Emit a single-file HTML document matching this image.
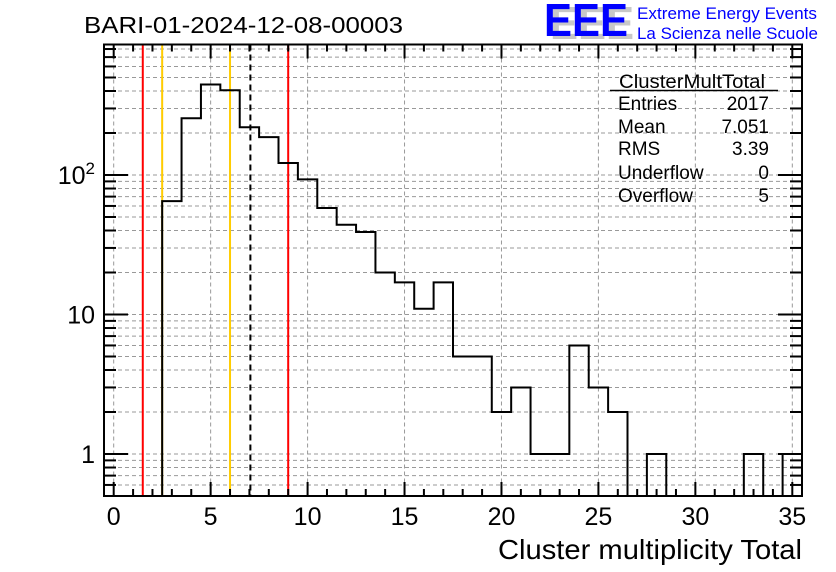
<!DOCTYPE html>
<html><head><meta charset="utf-8"><style>
html,body{margin:0;padding:0;background:#fff;}
svg{display:block;font-family:"Liberation Sans",sans-serif;}
</style></head><body>
<svg id="c" width="836" height="572" xmlns="http://www.w3.org/2000/svg">
<rect width="836" height="572" fill="#fff"/>
<g id="grid"></g>
<g id="vlines"></g>
<path id="hist" fill="none" stroke="#000" stroke-width="2"/>
<g id="axes"></g>
<text x="84" y="33" font-size="23" textLength="319" lengthAdjust="spacingAndGlyphs">BARI-01-2024-12-08-00003</text>
<g>
<text x="550" y="39" font-size="46" font-weight="bold" fill="#c8c8c8" textLength="84" lengthAdjust="spacingAndGlyphs">EEE</text>
<text x="544" y="36" font-size="46" font-weight="bold" fill="#0000ff" textLength="84" lengthAdjust="spacingAndGlyphs">EEE</text>
<text x="637" y="19" font-size="17" fill="#0000ff" textLength="180" lengthAdjust="spacingAndGlyphs">Extreme Energy Events</text>
<text x="637" y="39" font-size="17" fill="#0000ff" textLength="181" lengthAdjust="spacingAndGlyphs">La Scienza nelle Scuole</text>
</g>
<g font-size="19">
<text x="692" y="88" text-anchor="middle" textLength="146" lengthAdjust="spacingAndGlyphs">ClusterMultTotal</text>
<line x1="610" y1="90.5" x2="778" y2="90.5" stroke="#000" stroke-width="1.5"/>
<text x="618" y="110">Entries</text><text x="769" y="110" text-anchor="end">2017</text>
<text x="618" y="133">Mean</text><text x="769" y="133" text-anchor="end">7.051</text>
<text x="618" y="155">RMS</text><text x="769" y="155" text-anchor="end">3.39</text>
<text x="618" y="179">Underflow</text><text x="769" y="179" text-anchor="end">0</text>
<text x="618" y="202">Overflow</text><text x="769" y="202" text-anchor="end">5</text>
</g>
<text x="802" y="559" font-size="28" text-anchor="end" textLength="304" lengthAdjust="spacingAndGlyphs">Cluster multiplicity Total</text>
</svg>
<script>
const binLow = [2.5,3.5,4.5,5.5,6.5,7.5,8.5,9.5,10.5,11.5,12.5,13.5,14.5,15.5,16.5,17.5,18.5,19.5,20.5,21.5,22.5,23.5,24.5,25.5,26.5,27.5,28.5,29.5,30.5,31.5,32.5,33.5,34.5];
const counts = [65,255,445,405,220,187,122,93,58,44,39,20,17,11,17,5,5,2,3,1,1,6,3,2,0,1,0,0,0,0,1,0,1];
const xTicks = [0,5,10,15,20,25,30,35];
const yTickLabels = ["1","10","10²"];
const markerX = [1.5,2.5,6.0,7.05,9.0];
const markerColor = ["#ff0000","#ffcc00","#ffcc00","#000","#ff0000"];

const L=104,R=802,T=44.5,B=496;
const xMin=-0.5,xMax=35.5,yMin=0.5,yOneY=454,dec=139.5;
const X=v=>L+(v-xMin)/(xMax-xMin)*(R-L);
const Y=v=>v<=0?B:Math.max(T,Math.min(B,yOneY-Math.log10(v)*dec));
const NS="http://www.w3.org/2000/svg";
function mk(parent,tag,attrs){const e=document.createElementNS(NS,tag);for(const k in attrs)e.setAttribute(k,attrs[k]);document.getElementById(parent).appendChild(e);return e;}

xTicks.forEach(t=>{const e=mk('grid','line',{x1:X(t),x2:X(t),y1:T,y2:B,stroke:'#999','stroke-dasharray':'4,3','stroke-width':1});

});
const yGrid=[];
for(let d=-1;d<=2;d++)for(let m=1;m<=9;m++){const v=m*Math.pow(10,d);if(v>yMin&&Y(v)>T+1)yGrid.push(v);}
yGrid.forEach(v=>{const e=mk('grid','line',{x1:L,x2:R,y1:Y(v),y2:Y(v),stroke:'#999','stroke-dasharray':'4,3','stroke-width':1});

});

markerX.forEach((m,i)=>{const e=mk('vlines','line',{x1:X(m),x2:X(m),y1:T,y2:B,stroke:markerColor[i],'stroke-width':2});
if(i===3)e.setAttribute('stroke-dasharray','6,4');

});

let d='',prev=null;
binLow.forEach((lo,i)=>{const y=Y(counts[i]);const x0=X(lo),x1=X(lo+1);
if(prev===null)d+=`M${x0},${B}L${x0},${y}`;else d+=`L${x0},${y}`;
d+=`L${x1},${y}`;prev=y;});
d+=`L${X(binLow[binLow.length-1]+1)},${B}`;
document.getElementById('hist').setAttribute('d',d);

const fr=mk('axes','rect',{x:L,y:T,width:R-L,height:B-T,fill:'none',stroke:'#000','stroke-width':2});


for(let t=0;t<=35;t++){const major=t%5===0;const len=major?14:7;
mk('axes','line',{x1:X(t),x2:X(t),y1:B,y2:B-len,stroke:'#000','stroke-width':2});
mk('axes','line',{x1:X(t),x2:X(t),y1:T,y2:T+len,stroke:'#000','stroke-width':2});}
xTicks.forEach(t=>{const e=mk('axes','text',{x:X(t),y:525,'font-size':25,'text-anchor':'middle'});e.textContent=String(t);

});
yGrid.forEach(v=>{const major=Math.abs(Math.log10(v)-Math.round(Math.log10(v)))<1e-9;const len=major?24:12;
mk('axes','line',{x1:L,x2:L+len,y1:Y(v),y2:Y(v),stroke:'#000','stroke-width':2});
mk('axes','line',{x1:R,x2:R-len,y1:Y(v),y2:Y(v),stroke:'#000','stroke-width':2});});
[1,10,100].forEach((v,i)=>{const e=mk('axes','text',{x:95,y:Y(v)+9,'font-size':25,'text-anchor':'end'});
if(i<2)e.textContent=yTickLabels[i];else{e.textContent='10';const s=document.createElementNS(NS,'tspan');s.setAttribute('dy','-10');s.setAttribute('font-size','17');s.textContent='2';e.appendChild(s);e.setAttribute('x',95);}

});
</script>
</body></html>
